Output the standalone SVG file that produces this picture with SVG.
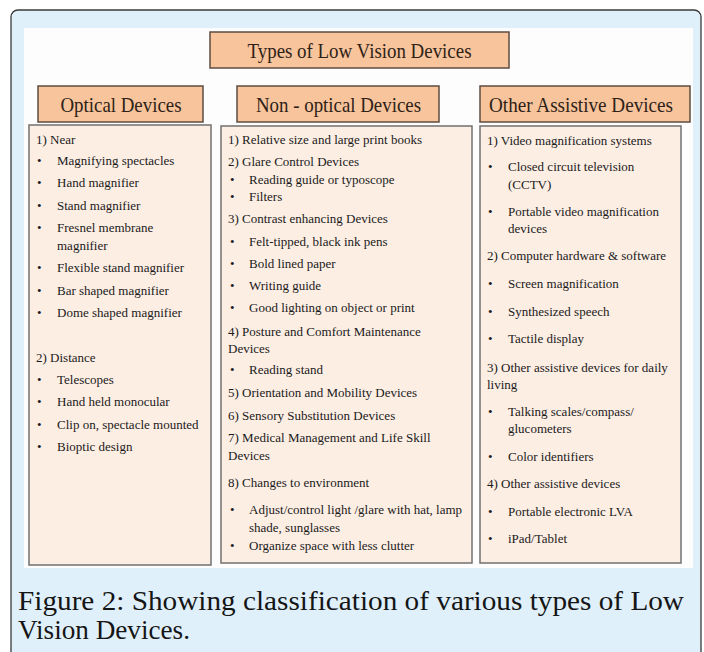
<svg xmlns="http://www.w3.org/2000/svg" width="704" height="652" viewBox="0 0 704 652">
<style>
.hdr{fill:#f8c49b;stroke:#5e4c40;stroke-width:1.5}
.box{fill:#fdeee4;stroke:#707070;stroke-width:1.5}
.ht{font-family:"Liberation Serif",serif;font-size:21px;fill:#2e2218;text-anchor:middle}
.t{font-family:"Liberation Serif",serif;font-size:13px;fill:#1a1a1a}
.cap{font-family:"Liberation Serif",serif;font-size:27px;fill:#151515}
</style>
<rect x="11" y="10" width="690" height="660" rx="7" fill="#e0f0fb" stroke="#3a3a3a" stroke-width="1.3"/>
<rect x="24" y="28" width="669" height="540" fill="#fdfdfd"/>
<g id="connectors"/>
<g id="title">
<rect class="hdr" x="210" y="32" width="299" height="36"/>
<text class="ht" x="359.5" y="58" textLength="224" lengthAdjust="spacingAndGlyphs">Types of Low Vision Devices</text>
</g>
<g id="optical-header">
<rect class="hdr" x="38" y="86" width="165" height="36"/>
<text class="ht" x="121" y="111.5" textLength="121" lengthAdjust="spacingAndGlyphs">Optical Devices</text>
</g>
<g id="nonoptical-header">
<rect class="hdr" x="237" y="86" width="202" height="36"/>
<text class="ht" x="338.5" y="111.5" textLength="165" lengthAdjust="spacingAndGlyphs">Non - optical Devices</text>
</g>
<g id="other-header">
<rect class="hdr" x="480" y="86" width="210" height="36"/>
<text class="ht" x="581" y="111.5" textLength="184" lengthAdjust="spacingAndGlyphs">Other Assistive Devices</text>
</g>
<g id="optical-list">
<rect class="box" x="29" y="125" width="182" height="440"/>
<text class="t" x="36" y="144">1) Near</text>
<text class="t" x="37" y="165">•</text><text class="t" x="57" y="165">Magnifying spectacles</text>
<text class="t" x="37" y="187">•</text><text class="t" x="57" y="187">Hand magnifier</text>
<text class="t" x="37" y="210">•</text><text class="t" x="57" y="210">Stand magnifier</text>
<text class="t" x="37" y="232">•</text><text class="t" x="57" y="232">Fresnel membrane</text>
<text class="t" x="57" y="250">magnifier</text>
<text class="t" x="37" y="272">•</text><text class="t" x="57" y="272">Flexible stand magnifier</text>
<text class="t" x="37" y="295">•</text><text class="t" x="57" y="295">Bar shaped magnifier</text>
<text class="t" x="37" y="317">•</text><text class="t" x="57" y="317">Dome shaped magnifier</text>
<text class="t" x="36" y="362">2) Distance</text>
<text class="t" x="37" y="384">•</text><text class="t" x="57" y="384">Telescopes</text>
<text class="t" x="37" y="406">•</text><text class="t" x="57" y="406">Hand held monocular</text>
<text class="t" x="37" y="429">•</text><text class="t" x="57" y="429">Clip on, spectacle mounted</text>
<text class="t" x="37" y="451">•</text><text class="t" x="57" y="451">Bioptic design</text>
</g>
<g id="nonoptical-list">
<rect class="box" x="221" y="126" width="251" height="437"/>
<text class="t" x="228" y="144">1) Relative size and large print books</text>
<text class="t" x="228" y="166">2) Glare Control Devices</text>
<text class="t" x="230" y="184">•</text><text class="t" x="249" y="184">Reading guide or typoscope</text>
<text class="t" x="230" y="201">•</text><text class="t" x="249" y="201">Filters</text>
<text class="t" x="228" y="223">3) Contrast enhancing Devices</text>
<text class="t" x="230" y="246">•</text><text class="t" x="249" y="246">Felt-tipped, black ink pens</text>
<text class="t" x="230" y="268">•</text><text class="t" x="249" y="268">Bold lined paper</text>
<text class="t" x="230" y="290">•</text><text class="t" x="249" y="290">Writing guide</text>
<text class="t" x="230" y="312">•</text><text class="t" x="249" y="312">Good lighting on object or print</text>
<text class="t" x="228" y="336">4) Posture and Comfort Maintenance</text>
<text class="t" x="228" y="353">Devices</text>
<text class="t" x="230" y="374">•</text><text class="t" x="249" y="374">Reading stand</text>
<text class="t" x="228" y="397">5) Orientation and Mobility Devices</text>
<text class="t" x="228" y="420">6) Sensory Substitution Devices</text>
<text class="t" x="228" y="442">7) Medical Management and Life Skill</text>
<text class="t" x="228" y="460">Devices</text>
<text class="t" x="228" y="487">8) Changes to environment</text>
<text class="t" x="230" y="514">•</text><text class="t" x="249" y="514">Adjust/control light /glare with hat, lamp</text>
<text class="t" x="249" y="532">shade, sunglasses</text>
<text class="t" x="230" y="550">•</text><text class="t" x="249" y="550">Organize space with less clutter</text>
</g>
<g id="other-list">
<rect class="box" x="480" y="126" width="201" height="437"/>
<text class="t" x="487" y="145">1) Video magnification systems</text>
<text class="t" x="488" y="171">•</text><text class="t" x="508" y="171">Closed circuit television</text>
<text class="t" x="508" y="189">(CCTV)</text>
<text class="t" x="488" y="216">•</text><text class="t" x="508" y="216">Portable video magnification</text>
<text class="t" x="508" y="233">devices</text>
<text class="t" x="487" y="260">2) Computer hardware &amp; software</text>
<text class="t" x="488" y="288">•</text><text class="t" x="508" y="288">Screen magnification</text>
<text class="t" x="488" y="316">•</text><text class="t" x="508" y="316">Synthesized speech</text>
<text class="t" x="488" y="343">•</text><text class="t" x="508" y="343">Tactile display</text>
<text class="t" x="487" y="372">3) Other assistive devices for daily</text>
<text class="t" x="487" y="389">living</text>
<text class="t" x="488" y="416">•</text><text class="t" x="508" y="416">Talking scales/compass/</text>
<text class="t" x="508" y="433">glucometers</text>
<text class="t" x="488" y="461">•</text><text class="t" x="508" y="461">Color identifiers</text>
<text class="t" x="487" y="488">4) Other assistive devices</text>
<text class="t" x="488" y="516">•</text><text class="t" x="508" y="516">Portable electronic LVA</text>
<text class="t" x="488" y="543">•</text><text class="t" x="508" y="543">iPad/Tablet</text>
</g>
<g id="caption">
<text class="cap" x="18" y="610" textLength="666" lengthAdjust="spacingAndGlyphs">Figure 2: Showing classification of various types of Low</text>
<text class="cap" x="18" y="639" textLength="172" lengthAdjust="spacingAndGlyphs">Vision Devices.</text>
</g>
</svg>
